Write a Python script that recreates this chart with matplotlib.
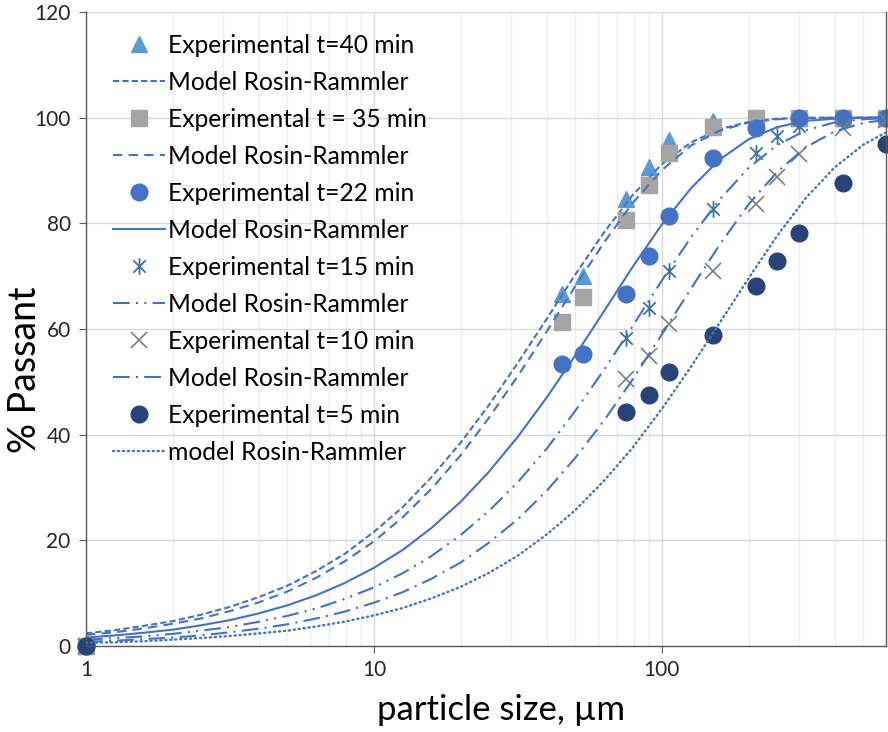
import matplotlib
matplotlib.use("Agg")
import matplotlib.pyplot as plt
from matplotlib.path import Path
from matplotlib.ticker import FixedLocator, NullFormatter

plt.rcParams['font.family'] = ['Lato', 'DejaVu Sans']

# experimental sieve data (particle size in um, % passing)
x_40 = [1, 45, 53, 75, 90, 106, 150, 212, 300, 425, 600]
y_40 = [0, 66.7, 70.0, 84.7, 90.7, 95.8, 99.4, 100, 100, 100, 100]
x_35 = [1, 45, 53, 75, 90, 106, 150, 212, 300, 425, 600]
y_35 = [0, 61.3, 66.0, 80.6, 87.2, 93.4, 98.3, 100, 100, 100, 100]
x_22 = [1, 45, 53, 75, 90, 106, 150, 212, 300, 425, 600]
y_22 = [0, 53.4, 55.3, 66.6, 73.8, 81.3, 92.4, 98.1, 100, 100, 100]
x_15 = [1, 75, 90, 106, 150, 212, 250, 300, 425, 600]
y_15 = [0, 58.3, 63.9, 70.9, 82.7, 93.3, 96.6, 98.5, 100, 100]
x_10 = [1, 75, 90, 106, 150, 212, 250, 300, 425, 600]
y_10 = [0, 50.5, 54.9, 61.0, 71.0, 83.7, 88.8, 93.1, 98.0, 99.6]
x_5 = [1, 75, 90, 106, 150, 212, 250, 300, 425, 600]
y_5 = [0, 44.3, 47.5, 51.8, 58.9, 68.1, 72.9, 78.1, 87.7, 95.0]

# model Rosin-Rammler curves
x_model = [1, 1.26, 1.58, 2, 2.5, 3.16, 4, 5, 6.3, 7.9, 10, 12.6, 15.8, 20, 25, 31.6, 40, 50,
           63, 79, 100, 126, 158, 200, 251, 316, 398, 501, 600]
m_40 = [2.4, 3.0, 3.8, 4.7, 5.9, 7.4, 9.3, 11.4, 14.2, 17.4, 21.6, 26.3, 31.9, 38.5, 45.5, 53.6,
        62.1, 70.3, 78.3, 85.3, 91.2, 95.3, 97.8, 99.2, 99.8, 100.0, 100.0, 100.0, 100.0]
m_35 = [2.1, 2.6, 3.3, 4.2, 5.2, 6.6, 8.3, 10.3, 12.9, 16.0, 19.8, 24.4, 29.7, 36.1, 43.1, 51.1,
        59.7, 68.1, 76.4, 83.8, 90.1, 94.7, 97.5, 99.1, 99.7, 99.9, 100.0, 100.0, 100.0]
m_22 = [1.6, 2.0, 2.5, 3.1, 3.9, 4.9, 6.2, 7.7, 9.6, 11.9, 14.8, 18.2, 22.3, 27.3, 32.9, 39.6,
        47.2, 55.0, 63.4, 71.7, 79.8, 86.6, 92.0, 95.9, 98.2, 99.4, 99.8, 100.0, 100.0]
m_15 = [1.2, 1.5, 1.8, 2.3, 2.9, 3.6, 4.6, 5.7, 7.1, 8.9, 11.1, 13.8, 17.0, 21.0, 25.5, 31.0,
        37.5, 44.5, 52.3, 60.5, 69.2, 77.3, 84.4, 90.5, 94.8, 97.6, 99.1, 99.7, 99.9]
m_10 = [0.8, 1.0, 1.3, 1.6, 2.0, 2.6, 3.3, 4.1, 5.2, 6.5, 8.2, 10.2, 12.7, 15.8, 19.5, 24.0,
        29.5, 35.6, 42.7, 50.4, 59.0, 67.6, 75.8, 83.6, 89.7, 94.4, 97.4, 99.0, 99.6]
m_5 = [0.6, 0.7, 0.9, 1.2, 1.5, 1.9, 2.4, 2.9, 3.7, 4.6, 5.8, 7.2, 9.0, 11.2, 13.8, 17.1,
       21.2, 25.7, 31.3, 37.5, 44.9, 52.8, 61.0, 69.6, 77.6, 84.8, 90.6, 94.9, 97.2]

line_col = '#4472C4'

# Excel-like asterisk marker (x plus vertical bar)
asterisk = Path([(0, -1), (0, 1), (-0.75, -0.75), (0.75, 0.75), (-0.75, 0.75), (0.75, -0.75)],
                [Path.MOVETO, Path.LINETO, Path.MOVETO, Path.LINETO, Path.MOVETO, Path.LINETO])

fig = plt.figure(figsize=(8.88, 7.32), dpi=100)
ax = fig.add_axes([86 / 888, 1 - 646 / 732, 800 / 888, 634 / 732])

lw = 1.5
ax.plot(x_40, y_40, ls='none', marker='^', ms=11, color='#5B9BD5', label='Experimental t=40 min', clip_on=False)
ax.plot(x_model, m_40, color=line_col, lw=lw, ls=(0, (3, 1.5)), label='Model Rosin-Rammler')
ax.plot(x_35, y_35, ls='none', marker='s', ms=11, color='#A5A5A5', label='Experimental t = 35 min', clip_on=False)
ax.plot(x_model, m_35, color=line_col, lw=lw, ls=(0, (4.5, 3)), label='Model Rosin-Rammler')
ax.plot(x_22, y_22, ls='none', marker='o', ms=12, color='#4472C4', label='Experimental t=22 min', clip_on=False)
ax.plot(x_model, m_22, color=line_col, lw=lw, ls='-', label='Model Rosin-Rammler')
ax.plot(x_15, y_15, ls='none', marker=asterisk, ms=12, mew=1.3, mfc='none', color='#3F74A8',
        label='Experimental t=15 min', clip_on=False)
ax.plot(x_model, m_15, color=line_col, lw=lw, ls=(0, (8, 3, 1, 3, 1, 3)), label='Model Rosin-Rammler')
ax.plot(x_10, y_10, ls='none', marker='x', ms=11, mew=1.2, color='#7F7F7F', label='Experimental t=10 min', clip_on=False)
ax.plot(x_model, m_10, color=line_col, lw=lw, ls=(0, (8, 3, 1, 3)), label='Model Rosin-Rammler')
ax.plot(x_5, y_5, ls='none', marker='o', ms=12, color='#264478', label='Experimental t=5 min', clip_on=False)
ax.plot(x_model, m_5, color=line_col, lw=1.7, ls=(0, (0.5, 1.6)), dash_capstyle='round', label='model Rosin-Rammler')

ax.set_xscale('log')
ax.set_xlim(1, 600)
ax.set_ylim(0, 120)
ax.set_yticks([0, 20, 40, 60, 80, 100, 120])
ax.xaxis.set_major_locator(FixedLocator([1, 10, 100]))
ax.set_xticklabels(['1', '10', '100'])
minor = [m * d for d in (1, 10, 100) for m in range(2, 10) if m * d < 600]
ax.xaxis.set_minor_locator(FixedLocator(minor))
ax.xaxis.set_minor_formatter(NullFormatter())

ax.grid(True, which='major', axis='y', color='#D9D9D9', lw=1)
ax.grid(True, which='major', axis='x', color='#D9D9D9', lw=1)
ax.grid(True, which='minor', axis='x', color='#EDEDED', lw=1)
ax.set_axisbelow(True)

for side in ('left', 'bottom', 'right'):
    ax.spines[side].set_color('#595959')
    ax.spines[side].set_linewidth(1)
ax.spines['top'].set_visible(False)
ax.tick_params(axis='both', which='major', direction='out', length=5, color='#595959',
               labelsize=15, labelcolor='#262626')
ax.tick_params(axis='x', which='major', pad=5)
ax.tick_params(axis='y', which='major', pad=6)
ax.tick_params(axis='x', which='minor', length=0)

ax.set_xlabel('particle size, µm', fontsize=25, color='#000000')
ax.xaxis.set_label_coords(0.519, -0.076)
ax.set_ylabel('% Passant', fontsize=27, color='#000000')
ax.yaxis.set_label_coords(-0.054, 0.435)

leg = ax.legend(loc='upper left', bbox_to_anchor=(0.034, 0.966), frameon=False, fontsize=17.7,
                borderpad=0, borderaxespad=0, handlelength=2.1, handletextpad=0.12,
                labelspacing=0.57, numpoints=1)

fig.savefig('out.png', dpi=100)
